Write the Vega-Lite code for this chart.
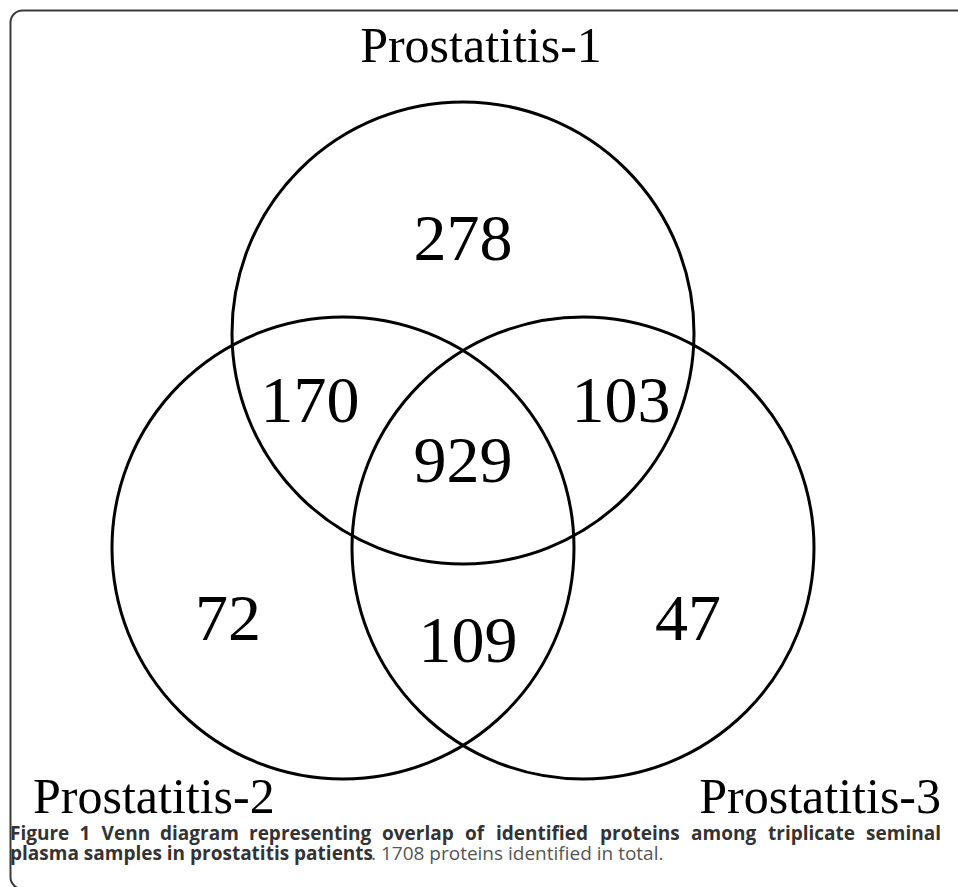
{
  "$schema": "https://vega.github.io/schema/vega-lite/v6.json",
  "width": 958,
  "height": 887,
  "autosize": {"type": "none"},
  "padding": 0,
  "background": "white",
  "config": {"view": {"stroke": null}},
  "datasets": {
    "sets": [
      {"set": "Prostatitis-1", "cx": 463, "cy": 333},
      {"set": "Prostatitis-2", "cx": 343, "cy": 548},
      {"set": "Prostatitis-3", "cx": 583, "cy": 548}
    ],
    "counts": [
      {"region": "1 only", "count": "278", "x": 463, "y": 260},
      {"region": "1 and 2", "count": "170", "x": 310, "y": 422},
      {"region": "1 and 3", "count": "103", "x": 621, "y": 422},
      {"region": "1, 2 and 3", "count": "929", "x": 463, "y": 482},
      {"region": "2 only", "count": "72", "x": 228, "y": 640},
      {"region": "2 and 3", "count": "109", "x": 468, "y": 662},
      {"region": "3 only", "count": "47", "x": 688, "y": 640}
    ],
    "nameCenter": [{"name": "Prostatitis-1", "x": 481, "y": 62}],
    "nameLeft": [{"name": "Prostatitis-2", "x": 33, "y": 813}],
    "nameRight": [{"name": "Prostatitis-3", "x": 941, "y": 813}],
    "captionLine1": [
      {"text": "Figure", "x": 10, "y": 840},
      {"text": "1", "x": 79.5, "y": 840},
      {"text": "Venn", "x": 101.6, "y": 840},
      {"text": "diagram", "x": 160, "y": 840},
      {"text": "representing", "x": 249, "y": 840},
      {"text": "overlap", "x": 382, "y": 840},
      {"text": "of", "x": 465, "y": 840},
      {"text": "identified", "x": 496, "y": 840},
      {"text": "proteins", "x": 600, "y": 840},
      {"text": "among", "x": 691, "y": 840},
      {"text": "triplicate", "x": 768, "y": 840}
    ],
    "captionLine1Right": [
      {"text": "seminal", "x": 941, "y": 840}
    ],
    "captionBold": [
      {"text": "plasma samples in prostatitis patients", "x": 10, "y": 860}
    ],
    "captionPlain": [
      {"text": ". 1708 proteins identified in total.", "x": 371, "y": 860}
    ],
    "frame": [
      {"x": 10.5, "y": 10.5, "x2": 1000, "y2": 889}
    ]
  },
  "layer": [
    {
      "data": {"name": "frame"},
      "mark": {"type": "rect", "fill": null, "stroke": "#3a3a3a", "strokeWidth": 2, "cornerRadius": 12},
      "encoding": {
        "x": {"field": "x", "type": "quantitative", "scale": {"domain": [0, 958], "nice": false, "zero": false}, "axis": null},
        "x2": {"field": "x2"},
        "y": {"field": "y", "type": "quantitative", "scale": {"domain": [0, 887], "nice": false, "zero": false, "reverse": true}, "axis": null},
        "y2": {"field": "y2"}
      }
    },
    {
      "data": {"name": "sets"},
      "mark": {"type": "point", "shape": "circle", "filled": false, "stroke": "black", "strokeWidth": 3, "opacity": 1},
      "encoding": {
        "x": {"field": "cx", "type": "quantitative"},
        "y": {"field": "cy", "type": "quantitative"},
        "size": {"value": 213444},
        "detail": {"field": "set"}
      }
    },
    {
      "data": {"name": "counts"},
      "mark": {"type": "text", "font": "Liberation Serif", "fontSize": 66, "align": "center", "baseline": "alphabetic", "color": "black"},
      "encoding": {
        "x": {"field": "x", "type": "quantitative"},
        "y": {"field": "y", "type": "quantitative"},
        "text": {"field": "count"}
      }
    },
    {
      "data": {"name": "nameCenter"},
      "mark": {"type": "text", "font": "Liberation Serif", "fontSize": 50, "align": "center", "baseline": "alphabetic", "color": "black"},
      "encoding": {
        "x": {"field": "x", "type": "quantitative"},
        "y": {"field": "y", "type": "quantitative"},
        "text": {"field": "name"}
      }
    },
    {
      "data": {"name": "nameLeft"},
      "mark": {"type": "text", "font": "Liberation Serif", "fontSize": 50, "align": "left", "baseline": "alphabetic", "color": "black"},
      "encoding": {
        "x": {"field": "x", "type": "quantitative"},
        "y": {"field": "y", "type": "quantitative"},
        "text": {"field": "name"}
      }
    },
    {
      "data": {"name": "nameRight"},
      "mark": {"type": "text", "font": "Liberation Serif", "fontSize": 50, "align": "right", "baseline": "alphabetic", "color": "black"},
      "encoding": {
        "x": {"field": "x", "type": "quantitative"},
        "y": {"field": "y", "type": "quantitative"},
        "text": {"field": "name"}
      }
    },
    {
      "data": {"name": "captionLine1"},
      "mark": {"type": "text", "font": "Open Sans", "fontWeight": "bold", "fontSize": 19, "align": "left", "baseline": "alphabetic", "color": "#333333"},
      "encoding": {
        "x": {"field": "x", "type": "quantitative"},
        "y": {"field": "y", "type": "quantitative"},
        "text": {"field": "text"}
      }
    },
    {
      "data": {"name": "captionLine1Right"},
      "mark": {"type": "text", "font": "Open Sans", "fontWeight": "bold", "fontSize": 19, "align": "right", "baseline": "alphabetic", "color": "#333333"},
      "encoding": {
        "x": {"field": "x", "type": "quantitative"},
        "y": {"field": "y", "type": "quantitative"},
        "text": {"field": "text"}
      }
    },
    {
      "data": {"name": "captionBold"},
      "mark": {"type": "text", "font": "Open Sans", "fontWeight": "bold", "fontSize": 19, "align": "left", "baseline": "alphabetic", "color": "#333333"},
      "encoding": {
        "x": {"field": "x", "type": "quantitative"},
        "y": {"field": "y", "type": "quantitative"},
        "text": {"field": "text"}
      }
    },
    {
      "data": {"name": "captionPlain"},
      "mark": {"type": "text", "font": "Open Sans", "fontSize": 19, "align": "left", "baseline": "alphabetic", "color": "#555555"},
      "encoding": {
        "x": {"field": "x", "type": "quantitative"},
        "y": {"field": "y", "type": "quantitative"},
        "text": {"field": "text"}
      }
    }
  ]
}
